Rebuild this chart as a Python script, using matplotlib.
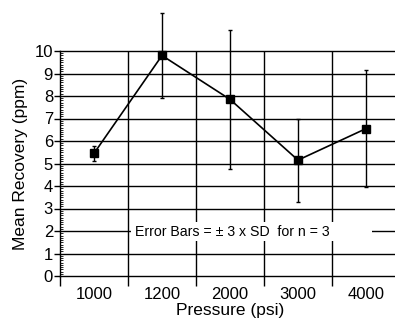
import matplotlib
matplotlib.use("Agg")
import matplotlib.pyplot as plt
from matplotlib.patches import Rectangle
from matplotlib.ticker import MultipleLocator, FixedLocator

plt.rcParams['font.family'] = ['Liberation Sans', 'DejaVu Sans']

categories = ["1000", "1200", "2000", "3000", "4000"]
means = [5.45, 9.8, 7.85, 5.15, 6.55]
errors = [0.35, 1.9, 3.1, 1.85, 2.6]
y_ticks = list(range(0, 11))

fig = plt.figure(figsize=(3.95, 3.2), dpi=100)
ax = fig.add_axes([60/395, 1-276/320, 340/395, 225/320])

x = list(range(len(categories)))
ax.set_xlim(-0.5, len(categories) - 0.5)
ax.set_ylim(0, 10)

# grid lines
for yv in y_ticks[1:]:
    ax.axhline(yv, color='black', lw=1.0, zorder=1, clip_on=False)
for xb in [i + 0.5 for i in x]:
    ax.axvline(xb, color='black', lw=1.0, zorder=1)

# annotation box
ax.add_patch(Rectangle((0.54, 1.55), 3.55, 0.85, facecolor='white', edgecolor='none', zorder=2))
ax.text(0.6, 1.97, "Error Bars = \u00b1 3 x SD  for n = 3", fontsize=10.2, va='center', ha='left', zorder=3)

ax.errorbar(x, means, yerr=errors, color='black', lw=1.2, marker='s', markersize=6,
            elinewidth=1.0, capsize=1.5, capthick=1.0, zorder=4, clip_on=False)

for s in ['top', 'right']:
    ax.spines[s].set_visible(False)
ax.spines['left'].set_linewidth(1.0)
ax.spines['bottom'].set_linewidth(1.0)

ax.xaxis.set_major_locator(FixedLocator([i + 0.5 for i in x] + [-0.5]))
ax.xaxis.set_major_formatter(plt.NullFormatter())
ax.xaxis.set_minor_locator(FixedLocator(x))
ax.set_xticklabels(categories, minor=True)
ax.tick_params(axis='x', which='major', direction='out', length=7, width=1.0)
ax.tick_params(axis='x', which='minor', length=0, labelsize=12, pad=8)

ax.set_yticks(y_ticks)
ax.yaxis.set_minor_locator(MultipleLocator(0.1))
ax.tick_params(axis='y', which='major', direction='out', length=4, width=1.0, labelsize=12, pad=1)
ax.tick_params(axis='y', which='minor', direction='in', length=2, width=0.6)

ax.set_xlabel("Pressure (psi)", fontsize=12.5, labelpad=1)
ax.set_ylabel("Mean Recovery (ppm)", fontsize=12.5, labelpad=5)

fig.savefig("out.png", dpi=100)
